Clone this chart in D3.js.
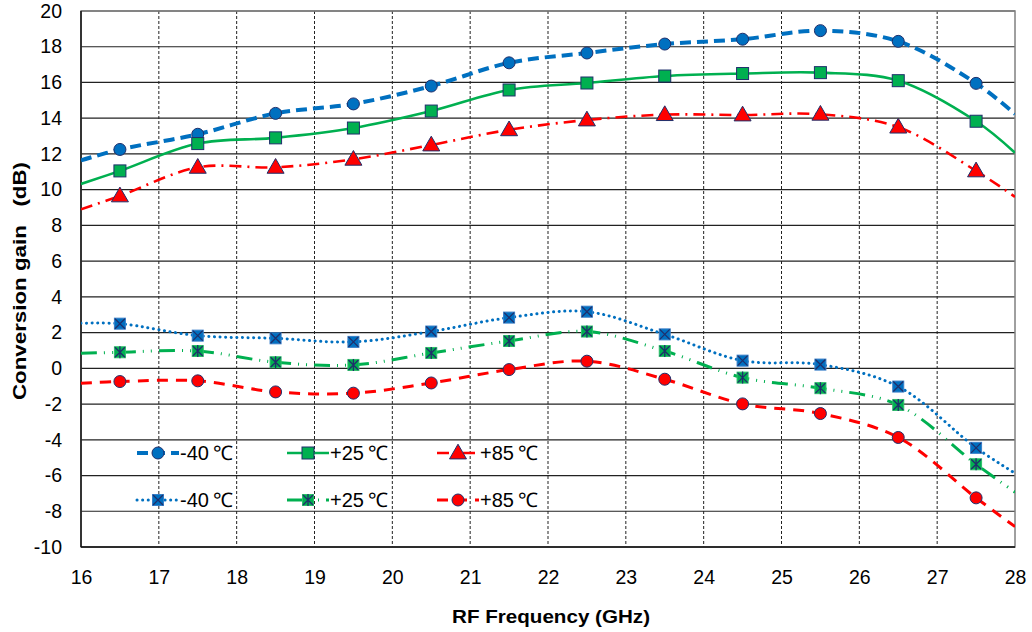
<!DOCTYPE html>
<html>
<head>
<meta charset="utf-8">
<script src="https://cdn.jsdelivr.net/npm/d3@7"></script>
<style>
  body { margin: 0; background: #fff; }
  text { font-family: "Liberation Sans", Arial, sans-serif; }
</style>
</head>
<body>
<svg id="chart" width="1032" height="632"></svg>
<script>
// x positions: plot edges (16, 28) + measured points 16.5 ... 27.5
var freqs = [16, 16.5, 17.5, 18.5, 19.5, 20.5, 21.5, 22.5, 23.5, 24.5, 25.5, 26.5, 27.5, 28];

// upper group
var topM40 = [11.64, 12.25, 13.1, 14.27, 14.8, 15.8, 17.1, 17.65, 18.15, 18.42, 18.9, 18.3, 15.95, 14.24];
var topP25 = [10.32, 11.05, 12.58, 12.9, 13.45, 14.4, 15.58, 15.97, 16.36, 16.5, 16.55, 16.1, 13.83, 12.07];
var topP85 = [8.9, 9.65, 11.25, 11.25, 11.7, 12.5, 13.35, 13.9, 14.2, 14.18, 14.22, 13.5, 11.05, 9.6];

// lower group
var lowM40 = [2.52, 2.5, 1.83, 1.68, 1.48, 2.06, 2.84, 3.17, 1.9, 0.43, 0.21, -1.02, -4.45, -5.87];
var lowP25 = [0.84, 0.9, 0.97, 0.34, 0.19, 0.86, 1.53, 2.06, 0.97, -0.52, -1.11, -2.05, -5.37, -6.93];
var lowP85 = [-0.84, -0.74, -0.7, -1.32, -1.39, -0.82, -0.07, 0.4, -0.61, -1.99, -2.53, -3.87, -7.25, -8.86];

var xTicks = [16, 17, 18, 19, 20, 21, 22, 23, 24, 25, 26, 27, 28];
var yTicks = [-10, -8, -6, -4, -2, 0, 2, 4, 6, 8, 10, 12, 14, 16, 18, 20];
var labels = ['-40\u2009\u2103', '+25\u2009\u2103', '+85\u2009\u2103', '-40\u2009\u2103', '+25\u2009\u2103', '+85\u2009\u2103'];

var blue = '#0070C0', green = '#00B050', red = '#FF0000', navy = '#1F2F6B';

var series = [
  { vals: topM40, color: blue, width: 4, dash: '11,6', marker: 'circle', fill: blue },
  { vals: topP25, color: green, width: 2.6, dash: null, marker: 'square', fill: green },
  { vals: topP85, color: red, width: 2.6, dash: '12,6,2,6', marker: 'triangle', fill: red },
  { vals: lowM40, color: blue, width: 3, dash: '0.1,5.5', cap: 'round', marker: 'xsquare', fill: blue },
  { vals: lowP25, color: green, width: 3, dash: '16,7,1,7,1,7', marker: 'asquare', fill: green },
  { vals: lowP85, color: red, width: 3, dash: '11,8', marker: 'circle', fill: red }
];

var svg = d3.select('#chart');
var pL = 81, pR = 1015, pT = 11, pB = 547;

var x = d3.scaleLinear().domain([16, 28]).range([pL, pR]);
var y = d3.scaleLinear().domain([-10, 20]).range([pB, pT]);

svg.append('defs').append('clipPath').attr('id', 'clip')
  .append('rect').attr('x', pL).attr('y', pT).attr('width', pR - pL).attr('height', pB - pT);

// horizontal grid
svg.append('g').selectAll('line').data(yTicks).enter().append('line')
  .attr('x1', pL).attr('x2', pR)
  .attr('y1', function(d) { return y(d); }).attr('y2', function(d) { return y(d); })
  .attr('stroke', '#222').attr('stroke-width', 1.2);

// vertical grid (dashed)
svg.append('g').selectAll('line').data(xTicks.slice(1, -1)).enter().append('line')
  .attr('x1', function(d) { return x(d); }).attr('x2', function(d) { return x(d); })
  .attr('y1', pT).attr('y2', pB)
  .attr('stroke', '#222').attr('stroke-width', 1).attr('stroke-dasharray', '3,2');

// frame
svg.append('rect').attr('x', pL).attr('y', pT).attr('width', pR - pL).attr('height', pB - pT)
  .attr('fill', 'none').attr('stroke', '#808080').attr('stroke-width', 1.5);
svg.append('line').attr('x1', pL).attr('x2', pL).attr('y1', pT).attr('y2', pB)
  .attr('stroke', '#111').attr('stroke-width', 1.5);
svg.append('line').attr('x1', pL).attr('x2', pR).attr('y1', pB).attr('y2', pB)
  .attr('stroke', '#111').attr('stroke-width', 1.5);

// tick labels (plain hyphen for negatives, as in the original)
var yAxis = d3.axisLeft(y).tickValues(yTicks).tickSize(0).tickPadding(19).tickFormat(String);
var gy = svg.append('g').attr('transform', 'translate(' + pL + ',0)').call(yAxis);
gy.select('.domain').remove();
gy.selectAll('text').attr('font-size', 19.5).attr('fill', '#000')
  .attr('font-family', '"Liberation Sans", Arial, sans-serif');

var xAxis = d3.axisBottom(x).tickValues(xTicks).tickSize(0).tickPadding(23).tickFormat(String);
var gx = svg.append('g').attr('transform', 'translate(0,' + pB + ')').call(xAxis);
gx.select('.domain').remove();
gx.selectAll('text').attr('font-size', 19.5).attr('fill', '#000')
  .attr('font-family', '"Liberation Sans", Arial, sans-serif');

// axis titles
svg.append('text').attr('x', 551).attr('y', 623).attr('text-anchor', 'middle')
  .attr('font-size', 18).attr('font-weight', 'bold')
  .attr('textLength', 198).attr('lengthAdjust', 'spacingAndGlyphs')
  .text('RF Frequency (GHz)');
svg.append('text').attr('transform', 'translate(26,281) rotate(-90)').attr('text-anchor', 'middle')
  .attr('font-size', 18).attr('font-weight', 'bold').attr('xml:space', 'preserve')
  .attr('textLength', 238).attr('lengthAdjust', 'spacingAndGlyphs')
  .text('Conversion gain   (dB)');

var line = d3.line()
  .x(function(d, i) { return x(freqs[i]); })
  .y(function(d) { return y(d); })
  .curve(d3.curveCatmullRom.alpha(0.5));

function drawMarker(g, type, fill, cx, cy) {
  if (type === 'circle') {
    g.append('circle').attr('cx', cx).attr('cy', cy).attr('r', 6)
      .attr('fill', fill).attr('stroke', navy).attr('stroke-width', 1);
  } else if (type === 'square') {
    g.append('rect').attr('x', cx - 6).attr('y', cy - 6).attr('width', 12).attr('height', 12)
      .attr('fill', fill).attr('stroke', navy).attr('stroke-width', 1);
  } else if (type === 'triangle') {
    g.append('path').attr('d', d3.symbol().type(d3.symbolTriangle).size(125)())
      .attr('transform', 'translate(' + cx + ',' + (cy + 1) + ')')
      .attr('fill', fill).attr('stroke', navy).attr('stroke-width', 1);
  } else {
    g.append('rect').attr('x', cx - 5.5).attr('y', cy - 5.5).attr('width', 11).attr('height', 11)
      .attr('fill', fill).attr('stroke', fill === blue ? '#3A7FC8' : '#2EBF6A').attr('stroke-width', 1);
    var s = 5;
    g.append('path').attr('d', 'M' + (cx - s) + ',' + (cy - s) + 'L' + (cx + s) + ',' + (cy + s) +
        'M' + (cx - s) + ',' + (cy + s) + 'L' + (cx + s) + ',' + (cy - s) +
        (type === 'asquare' ? 'M' + cx + ',' + (cy - s - 1) + 'L' + cx + ',' + (cy + s + 1) : ''))
      .attr('stroke', navy).attr('stroke-width', 1.3).attr('fill', 'none');
  }
}

var plot = svg.append('g').attr('clip-path', 'url(#clip)');

series.forEach(function(s) {
  var p = plot.append('path').datum(s.vals).attr('d', line)
    .attr('fill', 'none').attr('stroke', s.color).attr('stroke-width', s.width);
  if (s.dash) p.attr('stroke-dasharray', s.dash);
  if (s.cap) p.attr('stroke-linecap', s.cap);
});

series.forEach(function(s) {
  var g = svg.append('g');
  s.vals.forEach(function(v, i) {
    if (i === 0 || i === s.vals.length - 1) return;
    drawMarker(g, s.marker, s.fill, x(freqs[i]), y(v));
  });
});

// legend
var legX = [158, 308, 458], legY = [453, 500];
series.forEach(function(s, i) {
  var cx = legX[i % 3], cy = legY[Math.floor(i / 3)];
  var g = svg.append('g');
  var p = g.append('line').attr('x1', cx - 21).attr('x2', cx + 21).attr('y1', cy).attr('y2', cy)
    .attr('stroke', s.color).attr('stroke-width', s.width);
  if (s.dash) p.attr('stroke-dasharray', s.dash);
  if (s.cap) p.attr('stroke-linecap', s.cap);
  drawMarker(g, s.marker, s.fill, cx, cy);
  g.append('text').attr('x', cx + 22).attr('y', cy + 7).attr('font-size', 20).text(labels[i]);
});
</script>
</body>
</html>
